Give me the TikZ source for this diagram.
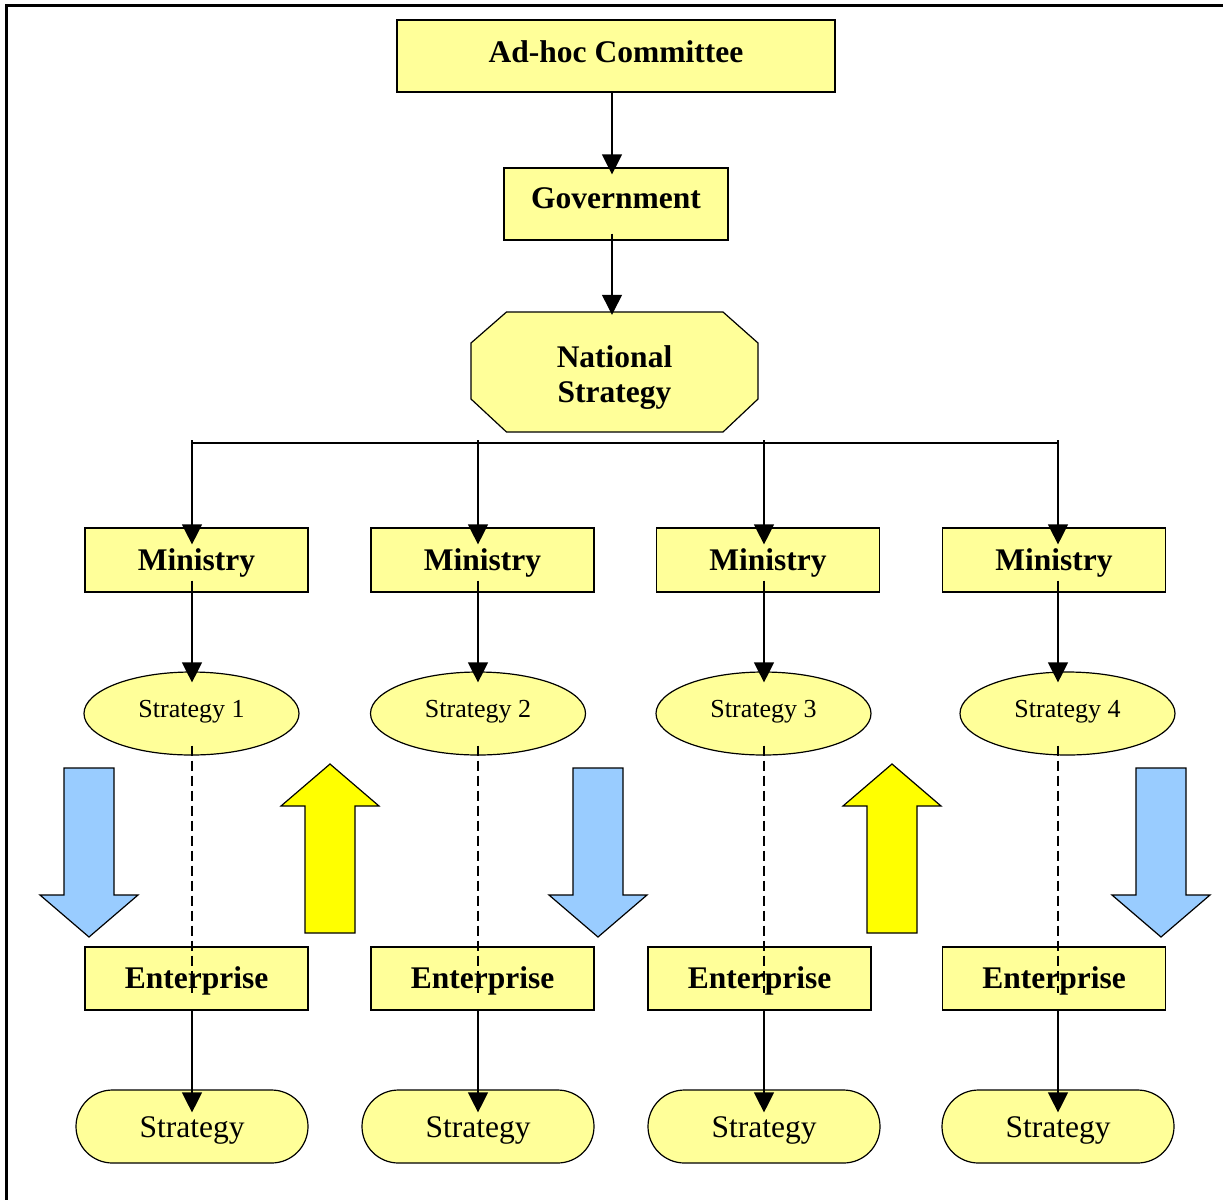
\documentclass[tikz,border=0pt]{standalone}
\usepackage{fontspec}
\setmainfont{Liberation Serif}
\usepackage{tikz}
\usetikzlibrary{arrows.meta,shapes.geometric,shapes.misc}
\definecolor{boxyellow}{HTML}{FFFF99}
\definecolor{arrblue}{HTML}{99CCFF}
\definecolor{arryellow}{HTML}{FFFF00}

\begin{document}
\begin{tikzpicture}[x=1pt,y=-1pt,
  box/.style={draw,fill=boxyellow,line width=1.2pt,inner sep=0pt,font=\fontsize{31.5}{35}\selectfont\bfseries},
  stratell/.style={ellipse,draw,fill=boxyellow,line width=1.2pt,inner sep=0pt,minimum width=215pt,minimum height=83pt,text height=18pt,text depth=11pt,font=\fontsize{26}{30}\selectfont},
  pill/.style={rounded rectangle,draw,fill=boxyellow,line width=1.2pt,inner sep=0pt,minimum width=232pt,minimum height=73pt,text height=22pt,text depth=1pt,font=\fontsize{31.5}{35}\selectfont},
  conn/.style={line width=1.2pt,-{Triangle[length=20pt,width=20pt]}},
  downarr/.style={draw,line width=1.2pt,fill=arrblue},
  uparr/.style={draw,line width=1.2pt,fill=arryellow}]
\useasboundingbox (0,0) rectangle (1223,1200);
\draw[line width=2.8pt] (1223,5.5) -- (6.5,5.5) -- (6.5,1200);
% top of the chart
\node[box,minimum width=438pt,minimum height=72pt,text height=22pt,text depth=10pt] (adhoc) at (616,56) {Ad-hoc Committee};
\node[box,minimum width=224pt,minimum height=72pt,text height=22pt,text depth=14pt] (gov) at (616,204) {Government};
\draw[fill=boxyellow,line width=1.2pt] (506.5,312) -- (723,312) -- (758,343) -- (758,399) -- (723,432) -- (506.5,432) -- (471,399) -- (471,343) -- cycle;
\node[inner sep=0pt,minimum width=287pt,minimum height=132pt,align=center,font=\fontsize{31.5}{35}\selectfont\bfseries] (natstr) at (614.5,378) {National\\Strategy};
\draw[conn,shorten >=-7pt] ([xshift=-4pt]adhoc.south) -- ([xshift=-4pt]gov.north);
\draw[conn,shorten <=-7pt,shorten >=-3pt] ([xshift=-4pt]gov.south) -- ([xshift=-2.5pt]natstr.north);
% one column per ministry
\foreach \i/\lx/\mx/\sx/\ex in {1/192/196.5/191.5/196.5,2/478/482.5/478/482.5,3/764/768/763.5/759.5,4/1058/1054/1067.5/1054}{
  \coordinate (bus\i) at (\lx,443);
  \node[box,minimum width=223pt,minimum height=64pt,text height=22pt,text depth=2pt] (min\i) at (\mx,560) {Ministry};
  \node[stratell] (str\i) at (\sx,713.5) {Strategy \i};
  \node[box,minimum width=223pt,minimum height=63pt,text height=22pt,text depth=3pt] (ent\i) at (\ex,978.5) {Enterprise};
  \node[pill] (est\i) at (\lx,1126.5) {Strategy};
  \draw[conn,shorten <=-3pt,shorten >=-17pt] (bus\i) -- (bus\i |- min\i.north);
  \draw[conn,shorten <=-12pt,shorten >=-11pt] (bus\i |- min\i.south) -- (bus\i |- str\i.north);
  \draw[line width=1.2pt,dash pattern=on 10pt off 5pt,shorten <=-10pt,shorten >=-14.5pt] (bus\i |- str\i.south) -- (bus\i |- ent\i.center);
  \draw[conn,shorten >=-23pt] (bus\i |- ent\i.south) -- (bus\i |- est\i.north);
}
\draw[line width=1.2pt] (bus1) -- (bus4);
% block arrows
\foreach \cx in {89,598,1161}
  \draw[downarr] ({\cx-25},768) -- ({\cx+25},768) -- ({\cx+25},895) -- ({\cx+49},895) -- (\cx,937) -- ({\cx-49},895) -- ({\cx-25},895) -- cycle;
\foreach \cx in {330,892}
  \draw[uparr] ({\cx-25},933) -- ({\cx+25},933) -- ({\cx+25},806) -- ({\cx+49},806) -- (\cx,764) -- ({\cx-49},806) -- ({\cx-25},806) -- cycle;
\end{tikzpicture}
\end{document}
